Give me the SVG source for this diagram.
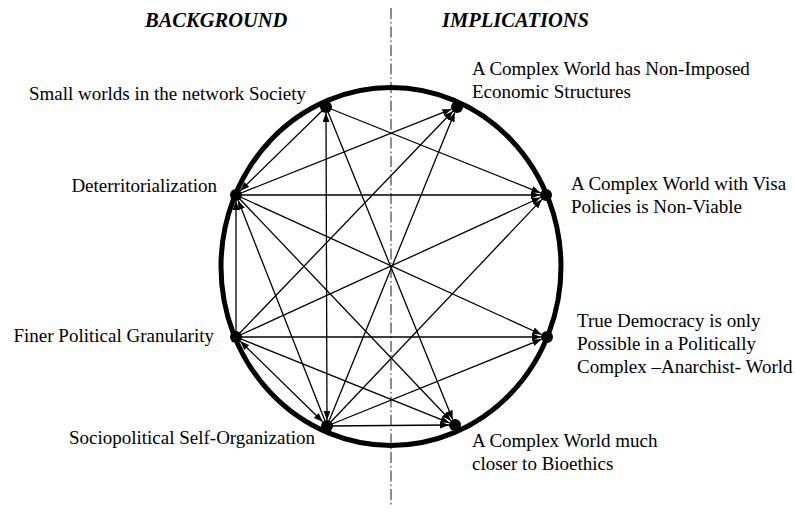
<svg xmlns="http://www.w3.org/2000/svg" width="795" height="513" viewBox="0 0 795 513">
<defs>
<marker id="ah" markerUnits="userSpaceOnUse" markerWidth="10" markerHeight="8" refX="9" refY="3.5" orient="auto-start-reverse">
<path d="M0,0 L9,3.5 L0,7 z" fill="#000"/>
</marker>
<style>
text{font-family:"Liberation Serif","Times New Roman",serif;font-size:19px;fill:#000}
.l{text-anchor:end}
.title{font-weight:bold;font-style:italic;font-size:20.5px}
.edge{stroke:#000;stroke-width:1.3;fill:none;marker-end:url(#ah)}
.both{marker-start:url(#ah)}
.dot{fill:#000}
</style>
</defs>
<rect width="795" height="513" fill="#fff"/>
<line x1="391" y1="8" x2="391" y2="506" stroke="#000" stroke-width="0.9" stroke-dasharray="11,3,1.5,3"/>
<text class="title" x="145" y="27">BACKGROUND</text>
<text class="title" x="442" y="27">IMPLICATIONS</text>
<ellipse cx="391" cy="266.5" rx="170" ry="179" fill="none" stroke="#000" stroke-width="5"/>
<g id="connectors">
<line class="edge" x1="326" y1="107" x2="240.3" y2="190.8"/>
<line class="edge" x1="236" y1="337" x2="236" y2="201"/>
<line class="edge" x1="327" y1="426" x2="238.2" y2="200.6"/>
<line class="edge both" x1="326" y1="113" x2="327" y2="420"/>
<line class="edge both" x1="240.3" y1="341.2" x2="322.7" y2="421.8"/>
<line class="edge" x1="236" y1="195" x2="451.4" y2="109.2"/>
<line class="edge" x1="236" y1="337" x2="452.8" y2="111.3"/>
<line class="edge" x1="327" y1="426" x2="454.7" y2="112.6"/>
<line class="edge" x1="326" y1="107" x2="540.4" y2="192.8"/>
<line class="edge" x1="236" y1="195" x2="540" y2="195"/>
<line class="edge" x1="236" y1="337" x2="540.5" y2="197.5"/>
<line class="edge" x1="327" y1="426" x2="541.9" y2="199.4"/>
<line class="edge" x1="236" y1="195" x2="541.5" y2="334.5"/>
<line class="edge" x1="236" y1="337" x2="541" y2="337"/>
<line class="edge" x1="327" y1="426" x2="541.4" y2="339.3"/>
<line class="edge" x1="326" y1="107" x2="452.7" y2="419.4"/>
<line class="edge" x1="236" y1="195" x2="450.9" y2="420.7"/>
<line class="edge" x1="236" y1="337" x2="449.4" y2="422.8"/>
<line class="edge" x1="327" y1="426" x2="449" y2="425"/>
</g>
<g id="node-small-worlds">
<circle class="dot" cx="326" cy="107" r="6"/>
<text class="l" x="306" y="100">Small worlds in the network Society</text>
</g>
<g id="node-deterritorialization">
<circle class="dot" cx="236" cy="195" r="6"/>
<text class="l" x="217" y="192">Deterritorialization</text>
</g>
<g id="node-finer-political">
<circle class="dot" cx="236" cy="337" r="6"/>
<text class="l" x="214" y="342">Finer Political Granularity</text>
</g>
<g id="node-self-organization">
<circle class="dot" cx="327" cy="426" r="6"/>
<text class="l" x="315" y="444">Sociopolitical Self-Organization</text>
</g>
<g id="node-economic">
<circle class="dot" cx="457" cy="107" r="6"/>
<text x="472" y="75">A Complex World has Non-Imposed</text>
<text x="472" y="98">Economic Structures</text>
</g>
<g id="node-visa">
<circle class="dot" cx="546" cy="195" r="6"/>
<text x="571" y="190">A Complex World with Visa</text>
<text x="571" y="213">Policies is Non-Viable</text>
</g>
<g id="node-democracy">
<circle class="dot" cx="547" cy="337" r="6"/>
<text x="577" y="327">True Democracy is only</text>
<text x="577" y="350">Possible in a Politically</text>
<text x="577" y="373">Complex –Anarchist- World</text>
</g>
<g id="node-bioethics">
<circle class="dot" cx="455" cy="425" r="6"/>
<text x="472" y="447">A Complex World much</text>
<text x="472" y="470">closer to Bioethics</text>
</g>
</svg>
